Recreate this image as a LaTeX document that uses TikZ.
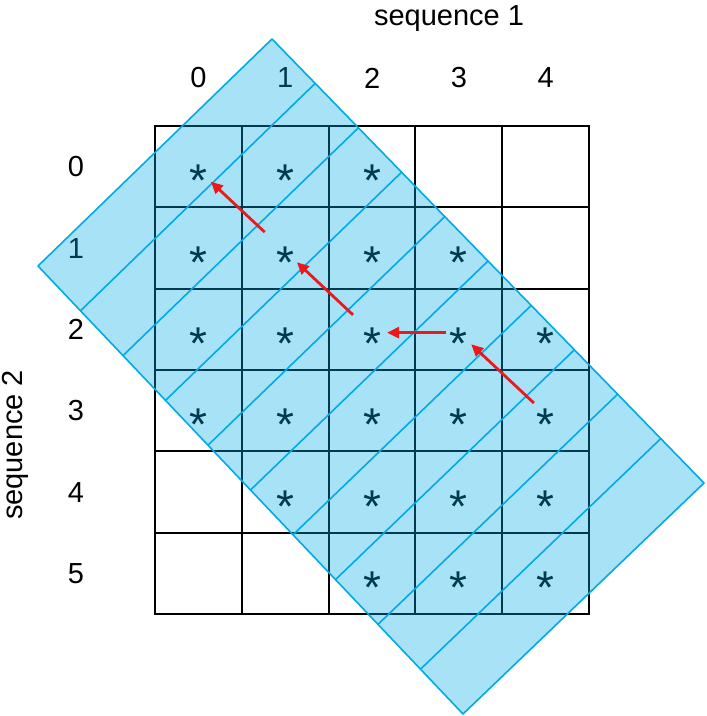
\documentclass[tikz,border=0pt]{standalone}
\usepackage{fontspec}
\setmainfont{Liberation Sans}
\usetikzlibrary{arrows.meta,calc}
\definecolor{seqblue}{RGB}{0,170,230}
\definecolor{seqred}{RGB}{235,25,25}
\tikzset{%
   lbl/.style={
      font=\fontsize{29}{34}\selectfont,
      inner sep=0pt
   },
   st/.style={
      font=\fontsize{46}{46}\selectfont,
      inner sep=0pt,
      anchor=base,
      yshift=-26.9pt
   },
   gridln/.style={
      draw=black,
      line width=2pt,
      line cap=rect
   },
   band/.style={
      draw=seqblue,
      line width=1.6pt,
      line join=round
   },
   arr/.style={
      draw=seqred,
      line width=2.8pt,
      -{Triangle[length=12pt,width=11pt]}
   },
}

\begin{document}
\begin{tikzpicture}[x=1pt, y=-1pt]
   \useasboundingbox (0,0) rectangle (707,716);
   \foreach \c in {0,...,5}
      \draw[gridln] ({155+86.8*\c},126) -- ({155+86.8*\c},614);
   \foreach \r in {0,...,6}
      \draw[gridln] (155,{126+81.33*\r}) -- (589,{126+81.33*\r});
   \foreach \r in {0,...,5}
      \foreach \c in {0,...,4}
         \coordinate (p\r\c) at ({198.4+86.8*\c},{170+81.33*\r});
   \foreach \r/\c in {0/0,0/1,0/2,1/0,1/1,1/2,1/3,2/0,2/1,2/2,2/3,2/4,
                      3/0,3/1,3/2,3/3,3/4,4/1,4/2,4/3,4/4,5/2,5/3,5/4}
      \node[st] (s\r\c) at (p\r\c) {*};
   \foreach \c in {0,...,4}
      \node[lbl] (col\c) at ({198.5+86.8*\c},78) {\c};
   \foreach \r in {0,...,5}
      \node[lbl] (row\r) at (76,{167+81.33*\r}) {\r};
   \node[lbl, anchor=base] (seq1) at (449,25) {sequence 1};
   \node[lbl, anchor=base, rotate=90] (seq2) at (22,445) {sequence 2};
   \coordinate (T) at (272,39);
   \coordinate (R) at (704,483);
   \coordinate (B) at (463,714);
   \coordinate (L) at (38,266);
   \fill[seqblue, fill opacity=.34] (T) -- (R) -- (B) -- (L) -- cycle;
   \draw[band] (T) -- (R) -- (B) -- (L) -- cycle;
   \foreach \k in {1,...,9}
      \draw[band] ($(T)!\k/10!(R)$) -- ($(L)!\k/10!(B)$);
   \draw[arr, shorten <=28pt, shorten >=17pt] (p11) -- (p00);
   \draw[arr, shorten <=26pt, shorten >=16pt] (p22) -- (p11);
   \draw[arr, shorten <=13pt, shorten >=15pt] (p23) -- (p22);
   \draw[arr, shorten <=16pt, shorten >=17pt] (p34) -- (p23);
\end{tikzpicture}
\end{document}
